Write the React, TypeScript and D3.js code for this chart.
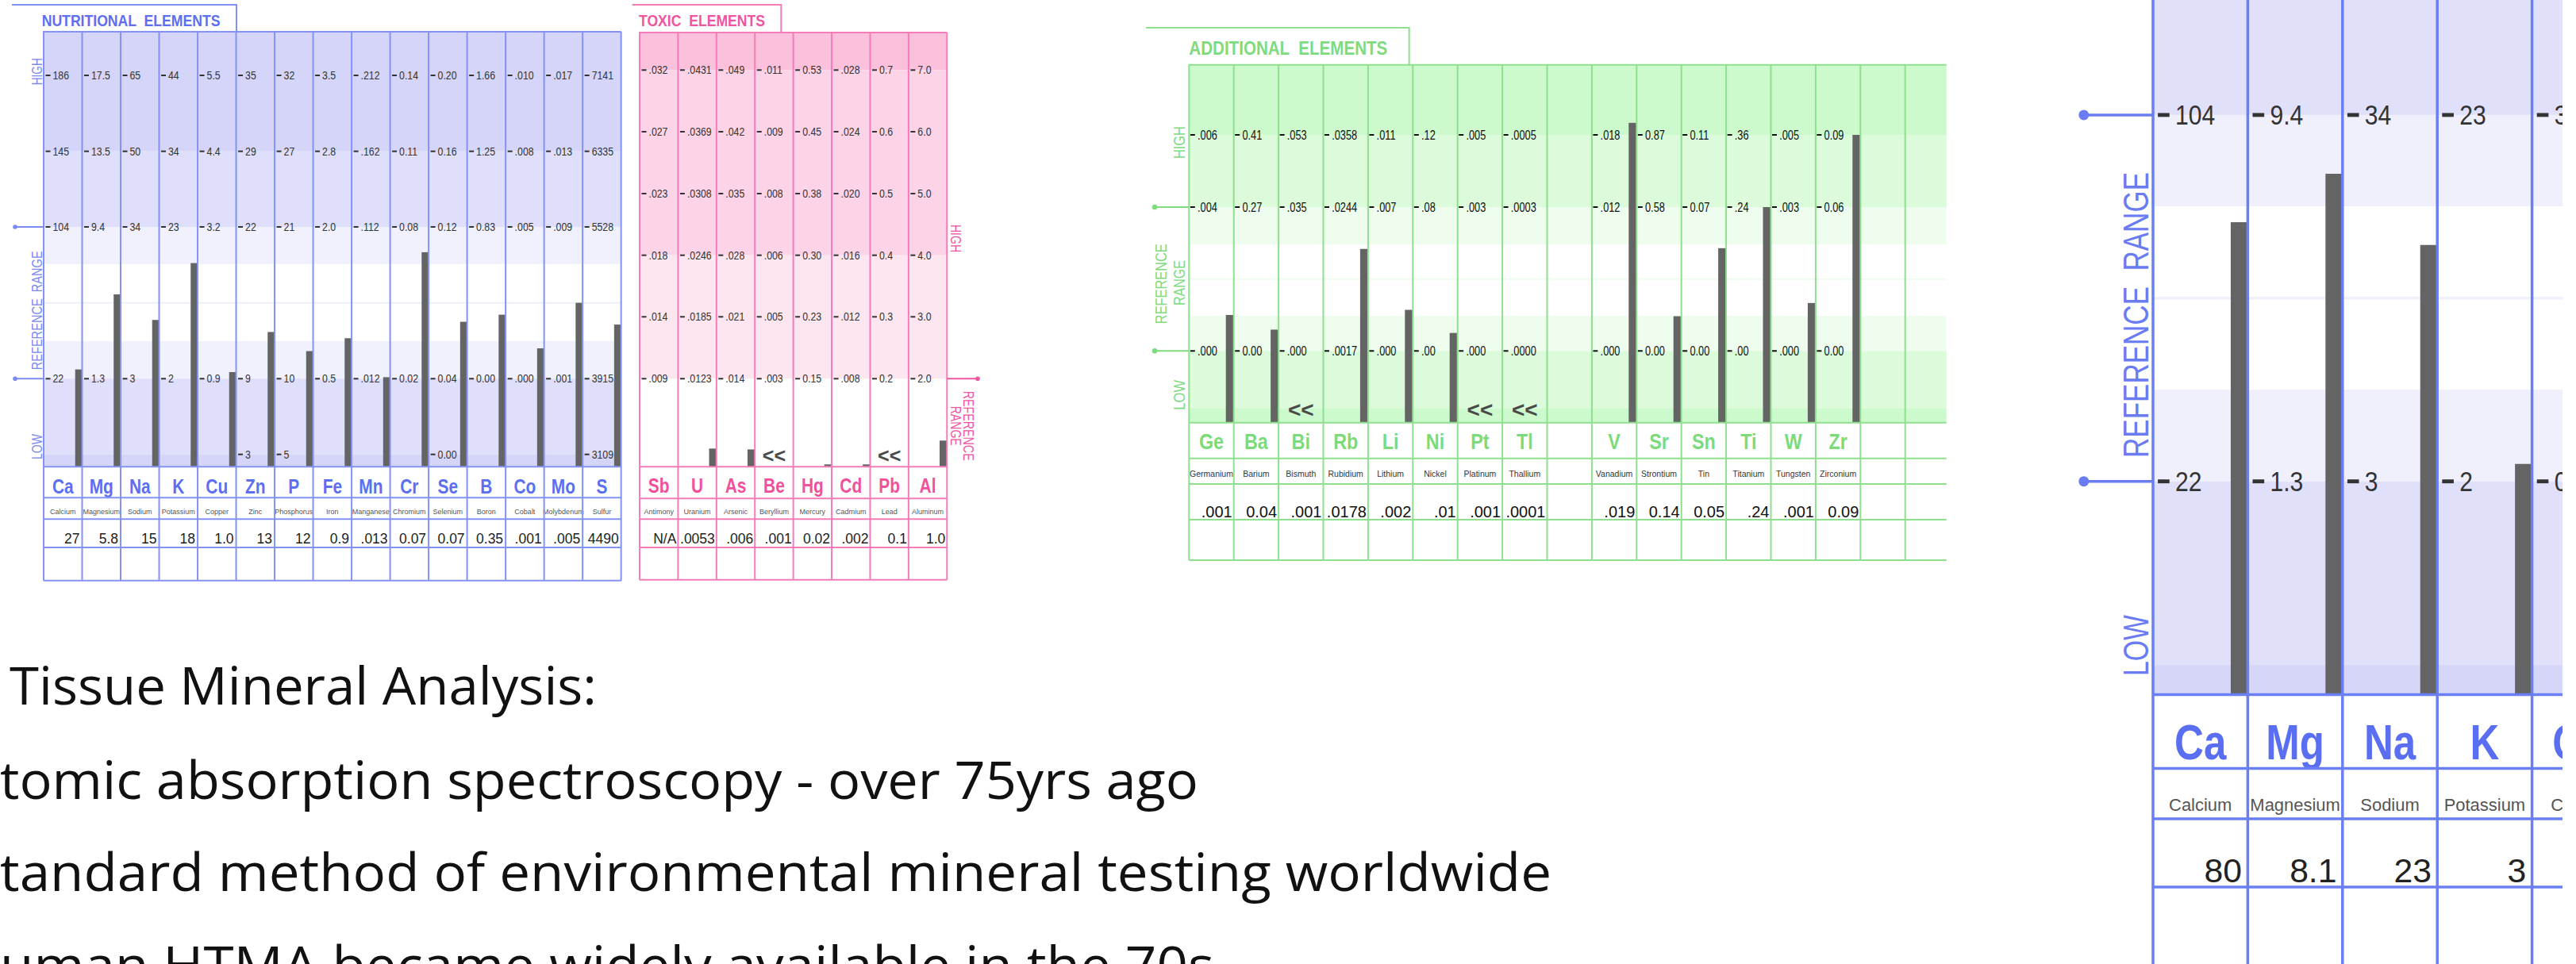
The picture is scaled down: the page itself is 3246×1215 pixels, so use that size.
import React from "react";
import * as d3 from "d3";

const W = 3246;
const H = 1215;
const FONT = "'Liberation Sans', Arial, Helvetica, sans-serif";
const TEXT_FONT = "'Open Sans', 'Noto Sans', sans-serif";
const BAR = "#646464";

// ---------------- Nutritional elements ----------------
const nutriSymbols = ["Ca", "Mg", "Na", "K", "Cu", "Zn", "P", "Fe", "Mn", "Cr", "Se", "B", "Co", "Mo", "S"];
const nutriNames = ["Calcium", "Magnesium", "Sodium", "Potassium", "Copper", "Zinc", "Phosphorus", "Iron", "Manganese", "Chromium", "Selenium", "Boron", "Cobalt", "Molybdenum", "Sulfur"];
const nutriHigh2 = ["186", "17.5", "65", "44", "5.5", "35", "32", "3.5", ".212", "0.14", "0.20", "1.66", ".010", ".017", "7141"];
const nutriHigh1 = ["145", "13.5", "50", "34", "4.4", "29", "27", "2.8", ".162", "0.11", "0.16", "1.25", ".008", ".013", "6335"];
const nutriRefHigh = ["104", "9.4", "34", "23", "3.2", "22", "21", "2.0", ".112", "0.08", "0.12", "0.83", ".005", ".009", "5528"];
const nutriRefLow = ["22", "1.3", "3", "2", "0.9", "9", "10", "0.5", ".012", "0.02", "0.04", "0.00", ".000", ".001", "3915"];
const nutriLow = ["", "", "", "", "", "3", "5", "", "", "", "0.00", "", "", "", "3109"];
const nutriResults = ["27", "5.8", "15", "18", "1.0", "13", "12", "0.9", ".013", "0.07", "0.07", "0.35", ".001", ".005", "4490"];
const nutriBelow = nutriSymbols.map(() => false);

// ---------------- Toxic elements ----------------
const toxSymbols = ["Sb", "U", "As", "Be", "Hg", "Cd", "Pb", "Al"];
const toxNames = ["Antimony", "Uranium", "Arsenic", "Beryllium", "Mercury", "Cadmium", "Lead", "Aluminum"];
const toxR1 = [".032", ".0431", ".049", ".011", "0.53", ".028", "0.7", "7.0"];
const toxR2 = [".027", ".0369", ".042", ".009", "0.45", ".024", "0.6", "6.0"];
const toxR3 = [".023", ".0308", ".035", ".008", "0.38", ".020", "0.5", "5.0"];
const toxR4 = [".018", ".0246", ".028", ".006", "0.30", ".016", "0.4", "4.0"];
const toxR5 = [".014", ".0185", ".021", ".005", "0.23", ".012", "0.3", "3.0"];
const toxR6 = [".009", ".0123", ".014", ".003", "0.15", ".008", "0.2", "2.0"];
const toxResults = ["N/A", ".0053", ".006", ".001", "0.02", ".002", "0.1", "1.0"];
const toxBelow = [false, false, false, true, false, false, true, false];

// ---------------- Additional elements ----------------
const addSymbols = ["Ge", "Ba", "Bi", "Rb", "Li", "Ni", "Pt", "Tl", "V", "Sr", "Sn", "Ti", "W", "Zr"];
const addNames = ["Germanium", "Barium", "Bismuth", "Rubidium", "Lithium", "Nickel", "Platinum", "Thallium", "Vanadium", "Strontium", "Tin", "Titanium", "Tungsten", "Zirconium"];
const addHigh = [".006", "0.41", ".053", ".0358", ".011", ".12", ".005", ".0005", ".018", "0.87", "0.11", ".36", ".005", "0.09"];
const addRefHigh = [".004", "0.27", ".035", ".0244", ".007", ".08", ".003", ".0003", ".012", "0.58", "0.07", ".24", ".003", "0.06"];
const addRefLow = [".000", "0.00", ".000", ".0017", ".000", ".00", ".000", ".0000", ".000", "0.00", "0.00", ".00", ".000", "0.00"];
const addResults = [".001", "0.04", ".001", ".0178", ".002", ".01", ".001", ".0001", ".019", "0.14", "0.05", ".24", ".001", "0.09"];
const addBelow = [false, false, true, false, false, false, true, true, false, false, false, false, false, false];

// ---------------- Enlarged panel (second result set) ----------------
const panelSymbols = ["Ca", "Mg", "Na", "K", "Cu"];
const panelNames = ["Calcium", "Magnesium", "Sodium", "Potassium", "Copper"];
const panelRefHigh = ["104", "9.4", "34", "23", "3.2"];
const panelRefLow = ["22", "1.3", "3", "2", "0.9"];
const panelResults = ["80", "8.1", "23", "3", ""];
const panelBelow = [false, false, false, false, false];

// ---------------- Text ----------------
const textLines = [
  "Tissue Mineral Analysis:",
  "tomic absorption spectroscopy - over 75yrs ago",
  "tandard method of environmental mineral testing worldwide",
  "uman HTMA became widely available in the 70s",
];

// ---------------- Layout ----------------
const nutriStyle = {
  lineW: 2, lineColor: "#8393f5", symColor: "#5c6ff2",
  tickColor: "#333", tickSize: 14, tickSx: 0.88, dash0: 2.5, dash1: 8.5, dashW: 2, tickTx: 11.5,
  symSize: 25.5, symSx: 0.82, symDy: 33.4,
  nameSize: 9, nameDy: 60, nameColor: "#555",
  valSize: 17.5, valDy: 96.7, valDx: -3, valColor: "#222",
  barW: 8.5, barInset: 0.3, minBarH: 3,
  ltSize: 25, ltDy: -5,
};

function scaleStyle(s: any, k: number, over: any) {
  const o: any = { ...s };
  ["tickSize", "dash0", "dash1", "dashW", "tickTx", "symSize", "symDy", "nameSize", "nameDy", "valSize", "valDy", "valDx", "barW", "barInset", "minBarH", "ltSize", "ltDy"].forEach((key) => {
    o[key] = s[key] * k;
  });
  return { ...o, ...over };
}

const toxStyle = { ...nutriStyle, lineColor: "#f57cb8", symColor: "#f0509c", symDy: 32.4, valDx: -2, barW: 9 };
const addStyle = {
  ...nutriStyle,
  lineColor: "#8ee08e", symColor: "#7bdb7b", tickColor: "#111",
  tickSize: 16, tickSx: 0.8, dash0: 1.5, dash1: 7.5, tickTx: 10.7,
  symSize: 28.5, symSx: 0.82, symDy: 33,
  nameSize: 10.5, nameDy: 68.5, nameColor: "#333",
  valSize: 20, valDy: 119, valDx: -2, valColor: "#111",
  barW: 10, barInset: 0, ltSize: 28, ltDy: -7,
};
const panelStyle = scaleStyle(nutriStyle, 2.44, { lineW: 3.5, lineColor: "#6b7ff5", symColor: "#5a6ef2" });

const nutriGeom = {
  x0: 55, colW: 48.51, nSlots: 15, gaps: [], right: 782.7, top: 40, bottom: 731.7, topLine: true,
  rows: [95, 190.7, 286, 381.7, 477.3, 572.7], baseline: 588.3,
  tableYs: [588.3, 627.3, 654.3, 690, 731.7],
  bands: [[40, 190.7, "#d5d5f9"], [190.7, 286, "#dfdffb"], [286, 333, "#f1f1fd"], [430, 477.3, "#f1f1fd"], [477.3, 572.7, "#dfdffb"], [572.7, 588.3, "#d5d5f9"]],
  faintY: 381.7, faintColor: "#eeeefc",
};
const toxGeom = {
  x0: 806, colW: 48.41, nSlots: 8, gaps: [], right: 1193.3, top: 41, bottom: 730.7, topLine: true,
  rows: [88.3, 166, 244, 321.7, 399.3, 477.3], baseline: 588.3,
  tableYs: [588.3, 628.3, 654.3, 690, 730.7],
  bands: [[41, 88.3, "#fbc1dc"], [88.3, 321.7, "#fdd3e7"], [321.7, 477.3, "#fde6f0"]],
  faintY: null, faintColor: "none",
};
const addGeom = {
  x0: 1498.3, colW: 56.4, nSlots: 16, gaps: [8], right: 2452.7, top: 81.7, bottom: 706, topLine: true,
  rows: [170, 261, 351.7, 442.3], baseline: 532.7,
  tableYs: [532.7, 577.7, 610, 655, 706],
  bands: [[81.7, 170, "#cdfacd"], [170, 261, "#dbfbdb"], [261, 308, "#eefdee"], [398, 442.3, "#eefdee"], [442.3, 515, "#dbfbdb"], [515, 532.7, "#cdfacd"]],
  faintY: 351.7, faintColor: "#eefcee",
};
const panelGeom = {
  x0: 2713, colW: 119.4, nSlots: 5, gaps: [], right: 3310, top: 0, bottom: H, topLine: false,
  rows: [-317, -86.1, 144.9, 375.8, 606.7, 837.6], baseline: 875.6,
  tableYs: [875.6, 968.6, 1032, 1118],
  bands: [[0, 144.9, "#e0e0fb"], [144.9, 260, "#f0f0fd"], [491, 606.7, "#f0f0fd"], [606.7, 837.6, "#e0e0fb"], [837.6, 875.6, "#d6d6f8"]],
  faintY: 375.8, faintColor: "#f0f0fd",
};

function Chart({ g, d, s }: any) {
  const slots: number[] = [];
  for (let i = 0; i < g.nSlots; i++) if (!g.gaps.includes(i)) slots.push(i);
  const colL = (slot: number) => g.x0 + slot * g.colW;
  const lines: number[] = d3.range(g.nSlots + 1).map(colL);

  return (
    <g fontFamily={FONT}>
      {g.bands.map((b: any, i: number) => (
        <rect key={"b" + i} x={g.x0} y={b[0]} width={g.right - g.x0} height={b[1] - b[0]} fill={b[2]} />
      ))}
      {g.faintY !== null && (
        <line x1={g.x0} x2={g.right} y1={g.faintY} y2={g.faintY} stroke={g.faintColor} strokeWidth={s.lineW} />
      )}
      {d.symbols.map((sym: string, i: number) => {
        const L = colL(slots[i]);
        const R = colL(slots[i] + 1);
        const pairs = d.tickRows
          .map(([ri, arr]: any) => [arr[i], g.rows[ri]])
          .filter((p: any) => p[0] !== "" && p[0] !== undefined);
        const sc = d3.scaleLinear().domain(pairs.map((p: any) => parseFloat(p[0]))).range(pairs.map((p: any) => p[1]));
        const v = parseFloat(d.results[i]);
        let mark: any = null;
        if (d.below[i]) {
          mark = (
            <text x={(L + R) / 2} y={g.baseline + s.ltDy} textAnchor="middle" fontSize={s.ltSize} fontWeight="bold" fill="#4a4a4a">
              {"<<"}
            </text>
          );
        } else if (!isNaN(v)) {
          let y = sc(v);
          y = Math.min(y, g.baseline - s.minBarH);
          mark = <rect x={R - s.barInset - s.barW} y={y} width={s.barW} height={g.baseline - y} fill={BAR} />;
        }
        return (
          <g key={"e" + i}>
            {mark}
            {pairs.map((p: any, j: number) => (
              <g key={"t" + j}>
                <line x1={L + s.dash0} x2={L + s.dash1} y1={p[1]} y2={p[1]} stroke={s.tickColor} strokeWidth={s.dashW} />
                <text transform={`translate(${L + s.tickTx},${p[1] + s.tickSize * 0.36}) scale(${s.tickSx},1)`} fontSize={s.tickSize} fill={s.tickColor}>
                  {p[0]}
                </text>
              </g>
            ))}
            <text transform={`translate(${(L + R) / 2},${g.baseline + s.symDy}) scale(${s.symSx},1)`} textAnchor="middle" fontSize={s.symSize} fontWeight="bold" fill={s.symColor}>
              {sym}
            </text>
            <text x={(L + R) / 2} y={g.baseline + s.nameDy} textAnchor="middle" fontSize={s.nameSize} fill={s.nameColor}>
              {d.names[i]}
            </text>
            <text x={R + s.valDx} y={g.baseline + s.valDy} textAnchor="end" fontSize={s.valSize} fill={s.valColor}>
              {d.results[i]}
            </text>
          </g>
        );
      })}
      {lines.map((x, i) => (
        <line key={"v" + i} x1={x} x2={x} y1={g.top} y2={g.bottom} stroke={s.lineColor} strokeWidth={s.lineW} />
      ))}
      {g.topLine && <line x1={g.x0 - s.lineW / 2} x2={g.right} y1={g.top} y2={g.top} stroke={s.lineColor} strokeWidth={s.lineW} />}
      {g.tableYs.map((y: number, i: number) => (
        <line key={"h" + i} x1={g.x0} x2={g.right} y1={y} y2={y} stroke={s.lineColor} strokeWidth={s.lineW} />
      ))}
    </g>
  );
}

function VLabel({ x, y, text, len, size, color, rot }: any) {
  return (
    <text
      transform={`translate(${x},${y}) rotate(${rot})`}
      textAnchor="middle"
      dy="0.36em"
      fontSize={size}
      fill={color}
      fontFamily={FONT}
      textLength={len}
      lengthAdjust="spacingAndGlyphs"
      style={{ whiteSpace: "pre" }}
    >
      {text}
    </text>
  );
}

function Pointer({ x1, x2, y, r, color, w, dotAt }: any) {
  return (
    <g>
      <line x1={x1} x2={x2} y1={y} y2={y} stroke={color} strokeWidth={w} />
      <circle cx={dotAt} cy={y} r={r} fill={color} />
    </g>
  );
}

export default function App() {
  const blue = "#7a8af3";
  const pink = "#f0559f";
  const green = "#7edb7e";
  return (
    <svg width={W} height={H} viewBox={`0 0 ${W} ${H}`} style={{ position: "absolute", left: 0, top: 0, background: "#fff" }}>
      <defs>
        <clipPath id="panelClip">
          <rect x={2590} y={0} width={639} height={H} />
        </clipPath>
      </defs>
      <rect x={0} y={0} width={W} height={H} fill="#fff" />

      {/* Nutritional */}
      <path d="M15,6 H298 V40" fill="none" stroke={nutriStyle.lineColor} strokeWidth={2} />
      <text x={52.7} y={33.3} fontFamily={FONT} fontWeight="bold" fontSize={21} fill="#5c6ff2" textLength={224.7} lengthAdjust="spacingAndGlyphs" style={{ whiteSpace: "pre" }}>
        {"NUTRITIONAL  ELEMENTS"}
      </text>
      <Chart
        g={nutriGeom}
        s={nutriStyle}
        d={{
          symbols: nutriSymbols, names: nutriNames, results: nutriResults, below: nutriBelow,
          tickRows: [[0, nutriHigh2], [1, nutriHigh1], [2, nutriRefHigh], [4, nutriRefLow], [5, nutriLow]],
        }}
      />
      <VLabel x={46.3} y={90.3} text="HIGH" len={34} size={17.5} color={blue} rot={-90} />
      <VLabel x={46.3} y={391.3} text="REFERENCE  RANGE" len={150} size={17.5} color={blue} rot={-90} />
      <VLabel x={46.3} y={563} text="LOW" len={32} size={17.5} color={blue} rot={-90} />
      <Pointer x1={19} x2={55} y={286} r={2.8} color={blue} w={2} dotAt={19} />
      <Pointer x1={19} x2={55} y={477.3} r={2.8} color={blue} w={2} dotAt={19} />

      {/* Toxic */}
      <path d="M796.7,6 H984.3 V41" fill="none" stroke={toxStyle.lineColor} strokeWidth={2} />
      <text x={805} y={33.3} fontFamily={FONT} fontWeight="bold" fontSize={21} fill={pink} textLength={159} lengthAdjust="spacingAndGlyphs" style={{ whiteSpace: "pre" }}>
        {"TOXIC  ELEMENTS"}
      </text>
      <Chart
        g={toxGeom}
        s={toxStyle}
        d={{
          symbols: toxSymbols, names: toxNames, results: toxResults, below: toxBelow,
          tickRows: [[0, toxR1], [1, toxR2], [2, toxR3], [3, toxR4], [4, toxR5], [5, toxR6]],
        }}
      />
      <VLabel x={1204.5} y={300.5} text="HIGH" len={35} size={17.5} color={pink} rot={90} />
      <VLabel x={1220} y={536.7} text="REFERENCE" len={88} size={17.5} color={pink} rot={90} />
      <VLabel x={1204.5} y={536.7} text="RANGE" len={50} size={17.5} color={pink} rot={90} />
      <Pointer x1={1193.3} x2={1232} y={477.3} r={2.8} color={pink} w={2} dotAt={1232} />

      {/* Additional */}
      <path d="M1444,35 H1775.7 V81.7" fill="none" stroke={addStyle.lineColor} strokeWidth={2} />
      <text x={1498.3} y={69.3} fontFamily={FONT} fontWeight="bold" fontSize={24.5} fill={green} textLength={250} lengthAdjust="spacingAndGlyphs" style={{ whiteSpace: "pre" }}>
        {"ADDITIONAL  ELEMENTS"}
      </text>
      <Chart
        g={addGeom}
        s={addStyle}
        d={{
          symbols: addSymbols, names: addNames, results: addResults, below: addBelow,
          tickRows: [[0, addHigh], [1, addRefHigh], [3, addRefLow]],
        }}
      />
      <VLabel x={1485.8} y={179.7} text="HIGH" len={40.7} size={21} color={green} rot={-90} />
      <VLabel x={1462.5} y={357.7} text="REFERENCE" len={101} size={21} color={green} rot={-90} />
      <VLabel x={1485.8} y={356.5} text="RANGE" len={57} size={21} color={green} rot={-90} />
      <VLabel x={1485.8} y={497.8} text="LOW" len={37.7} size={21} color={green} rot={-90} />
      <Pointer x1={1455} x2={1498.3} y={261} r={3.3} color={green} w={2} dotAt={1455} />
      <Pointer x1={1455} x2={1498.3} y={442.3} r={3.3} color={green} w={2} dotAt={1455} />

      {/* Enlarged panel */}
      <g clipPath="url(#panelClip)">
        <Chart
          g={panelGeom}
          s={panelStyle}
          d={{
            symbols: panelSymbols, names: panelNames, results: panelResults, below: panelBelow,
            tickRows: [[2, panelRefHigh], [4, panelRefLow]],
          }}
        />
      </g>
      <VLabel x={2691.5} y={397} text="REFERENCE  RANGE" len={360} size={44} color="#6a7cf2" rot={-90} />
      <VLabel x={2691.5} y={813.5} text="LOW" len={77} size={44} color="#6a7cf2" rot={-90} />
      <Pointer x1={2625.8} x2={2713} y={144.9} r={6.5} color="#6a7cf2" w={3.5} dotAt={2625.8} />
      <Pointer x1={2625.8} x2={2713} y={606.7} r={6.5} color="#6a7cf2" w={3.5} dotAt={2625.8} />

      {/* Text */}
      <g fontFamily={TEXT_FONT} fontSize={65} fill="#111">
        <text x={12} y={888} textLength={740} lengthAdjust="spacingAndGlyphs">{textLines[0]}</text>
        <text x={0} y={1006.7} textLength={1510} lengthAdjust="spacingAndGlyphs">{textLines[1]}</text>
        <text x={0} y={1123.3} textLength={1955} lengthAdjust="spacingAndGlyphs">{textLines[2]}</text>
        <text x={0} y={1240} textLength={1530} lengthAdjust="spacingAndGlyphs">{textLines[3]}</text>
      </g>
    </svg>
  );
}
